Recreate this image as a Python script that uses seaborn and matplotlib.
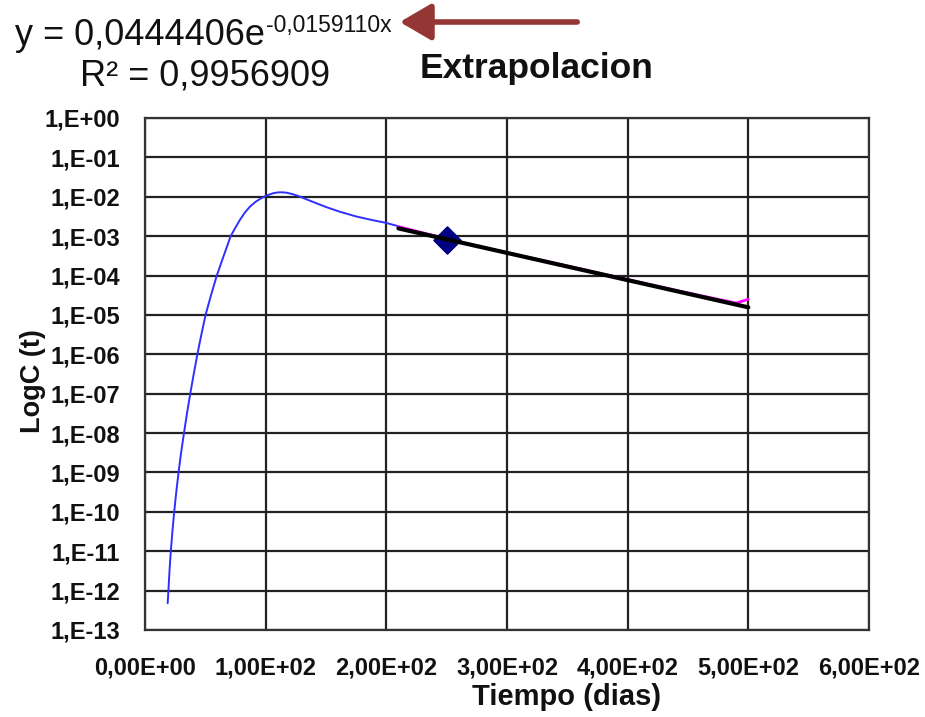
import matplotlib
matplotlib.use("Agg")
import matplotlib.pyplot as plt
import seaborn as sns
import pandas as pd
from matplotlib.patches import FancyArrowPatch

# ---- data ----
blue_t = [18.8, 19.4, 20.3, 21.4, 22.7, 24.2, 25.9, 27.8, 29.9, 32.3, 34.8, 37.5, 40.4, 43.4,
          46.7, 50.2, 54.7, 59.5, 65.2, 71.0, 75.0, 79.0, 83.0, 87.0, 91.5, 96.7, 101.5,
          106.3, 110.0, 113.0, 117.0, 122.0, 127.0, 131.0, 140.0, 150.0, 161.5, 175.0,
          188.0, 199.4, 209.0]
blue_log10c = [-12.32, -12.0, -11.5, -11.0, -10.5, -10.0, -9.5, -9.0, -8.5, -8.0, -7.5, -7.0,
               -6.5, -6.0, -5.5, -5.0, -4.5, -4.0, -3.5, -3.0, -2.78, -2.57, -2.39, -2.25,
               -2.13, -2.03, -1.96, -1.91, -1.89, -1.886, -1.895, -1.93, -1.98, -2.03, -2.14,
               -2.26, -2.38, -2.50, -2.59, -2.66, -2.74]

mag_t = [210, 250, 300, 350, 400, 450, 490, 500]
mag_c = [1.75e-3, 8.5e-4, 3.8e-4, 1.75e-4, 7.9e-5, 3.6e-5, 2.0e-5, 2.5e-5]

trend_t = [210, 500]
trend_c = [1.573e-3, 1.557e-5]

point_t = [250]
point_c = [8.0e-4]

xticks = [0, 100, 200, 300, 400, 500, 600]
xtick_labels = ["0,00E+00", "1,00E+02", "2,00E+02", "3,00E+02", "4,00E+02", "5,00E+02", "6,00E+02"]
yexp = list(range(0, -14, -1))
ytick_labels = ["1,E+00"] + ["1,E-%02d" % (-e) for e in yexp[1:]]

eq_main = "y = 0,0444406e"
eq_sup = "-0,0159110x"
r2_text = "R² = 0,9956909"
note = "Extrapolacion"

# ---- figure ----
sns.set_style("white")
plt.rcParams['font.family'] = ['Liberation Sans', 'DejaVu Sans']

fig = plt.figure(figsize=(9.25, 7.17), dpi=100)
ax = fig.add_axes([145/925, 1-630/717, 724/925, 512/717])

blue_df = pd.DataFrame({"t": blue_t, "c": [10.0**v for v in blue_log10c]})
mag_df = pd.DataFrame({"t": mag_t, "c": mag_c})
trend_df = pd.DataFrame({"t": trend_t, "c": trend_c})
pt_df = pd.DataFrame({"t": point_t, "c": point_c})

sns.lineplot(data=blue_df, x="t", y="c", ax=ax, color="#2f2fff", lw=1.4, sort=False, zorder=3)
sns.lineplot(data=mag_df, x="t", y="c", ax=ax, color="#ff00ff", lw=2, sort=False, zorder=3)
sns.scatterplot(data=pt_df, x="t", y="c", ax=ax, marker="D", s=190, color="#000080",
                edgecolor="#000080", zorder=4)
sns.lineplot(data=trend_df, x="t", y="c", ax=ax, color="black", lw=3, sort=False, zorder=5)

ax.set_yscale("log")
ax.set_xlim(0, 600)
ax.set_ylim(1e-13, 1)
ax.set_xticks(xticks)
ax.set_xticklabels(xtick_labels)
ax.set_yticks([10.0**e for e in yexp])
ax.set_yticklabels(ytick_labels)
ax.yaxis.set_minor_locator(matplotlib.ticker.NullLocator())

ax.grid(True, color="#222222", lw=1.6)
ax.set_axisbelow(True)
for s in ax.spines.values():
    s.set_color("#333333")
    s.set_linewidth(1.6)

ax.tick_params(axis="y", direction="out", length=6, width=1.4, color="#333333", pad=12,
               labelsize=17, labelcolor="#111111")
ax.tick_params(axis="x", direction="out", length=3, width=1.4, color="#333333", pad=16,
               labelsize=17, labelcolor="#111111")
for lab in ax.get_xticklabels() + ax.get_yticklabels():
    lab.set_fontweight("bold")

ax.set_xlabel("")
ax.set_ylabel("")
fig.text(567/925, 1-705/717, "Tiempo (dias)", ha="center", va="baseline",
         fontsize=21, fontweight="bold", color="#111111")
fig.text(33/925, 1-381/717, "LogC (t)", ha="center", va="center", rotation=90,
         fontsize=19.5, fontweight="bold", color="#111111")

t_main = fig.text(15/925, 1-45/717, eq_main, ha="left", va="baseline", fontsize=26,
                  color="#111111")
fig.canvas.draw()
bb = t_main.get_window_extent(renderer=fig.canvas.get_renderer())
fig.text(bb.x1 / fig.bbox.width + 1/925, 1-32/717, eq_sup, ha="left", va="baseline",
         fontsize=16.5, color="#111111")
fig.text(80/925, 1-85/717, r2_text, ha="left", va="baseline", fontsize=26, color="#111111")
fig.text(420/925, 1-78/717, note, ha="left", va="baseline", fontsize=25.5,
         fontweight="bold", color="#111111")

arrow = FancyArrowPatch((580/925, 1-22/717), (397/925, 1-22/717), transform=fig.transFigure,
                        arrowstyle="-|>,head_length=12,head_width=7", mutation_scale=1.6,
                        color="#943634", lw=4)
fig.patches.append(arrow)

fig.savefig("out.png", dpi=100)
